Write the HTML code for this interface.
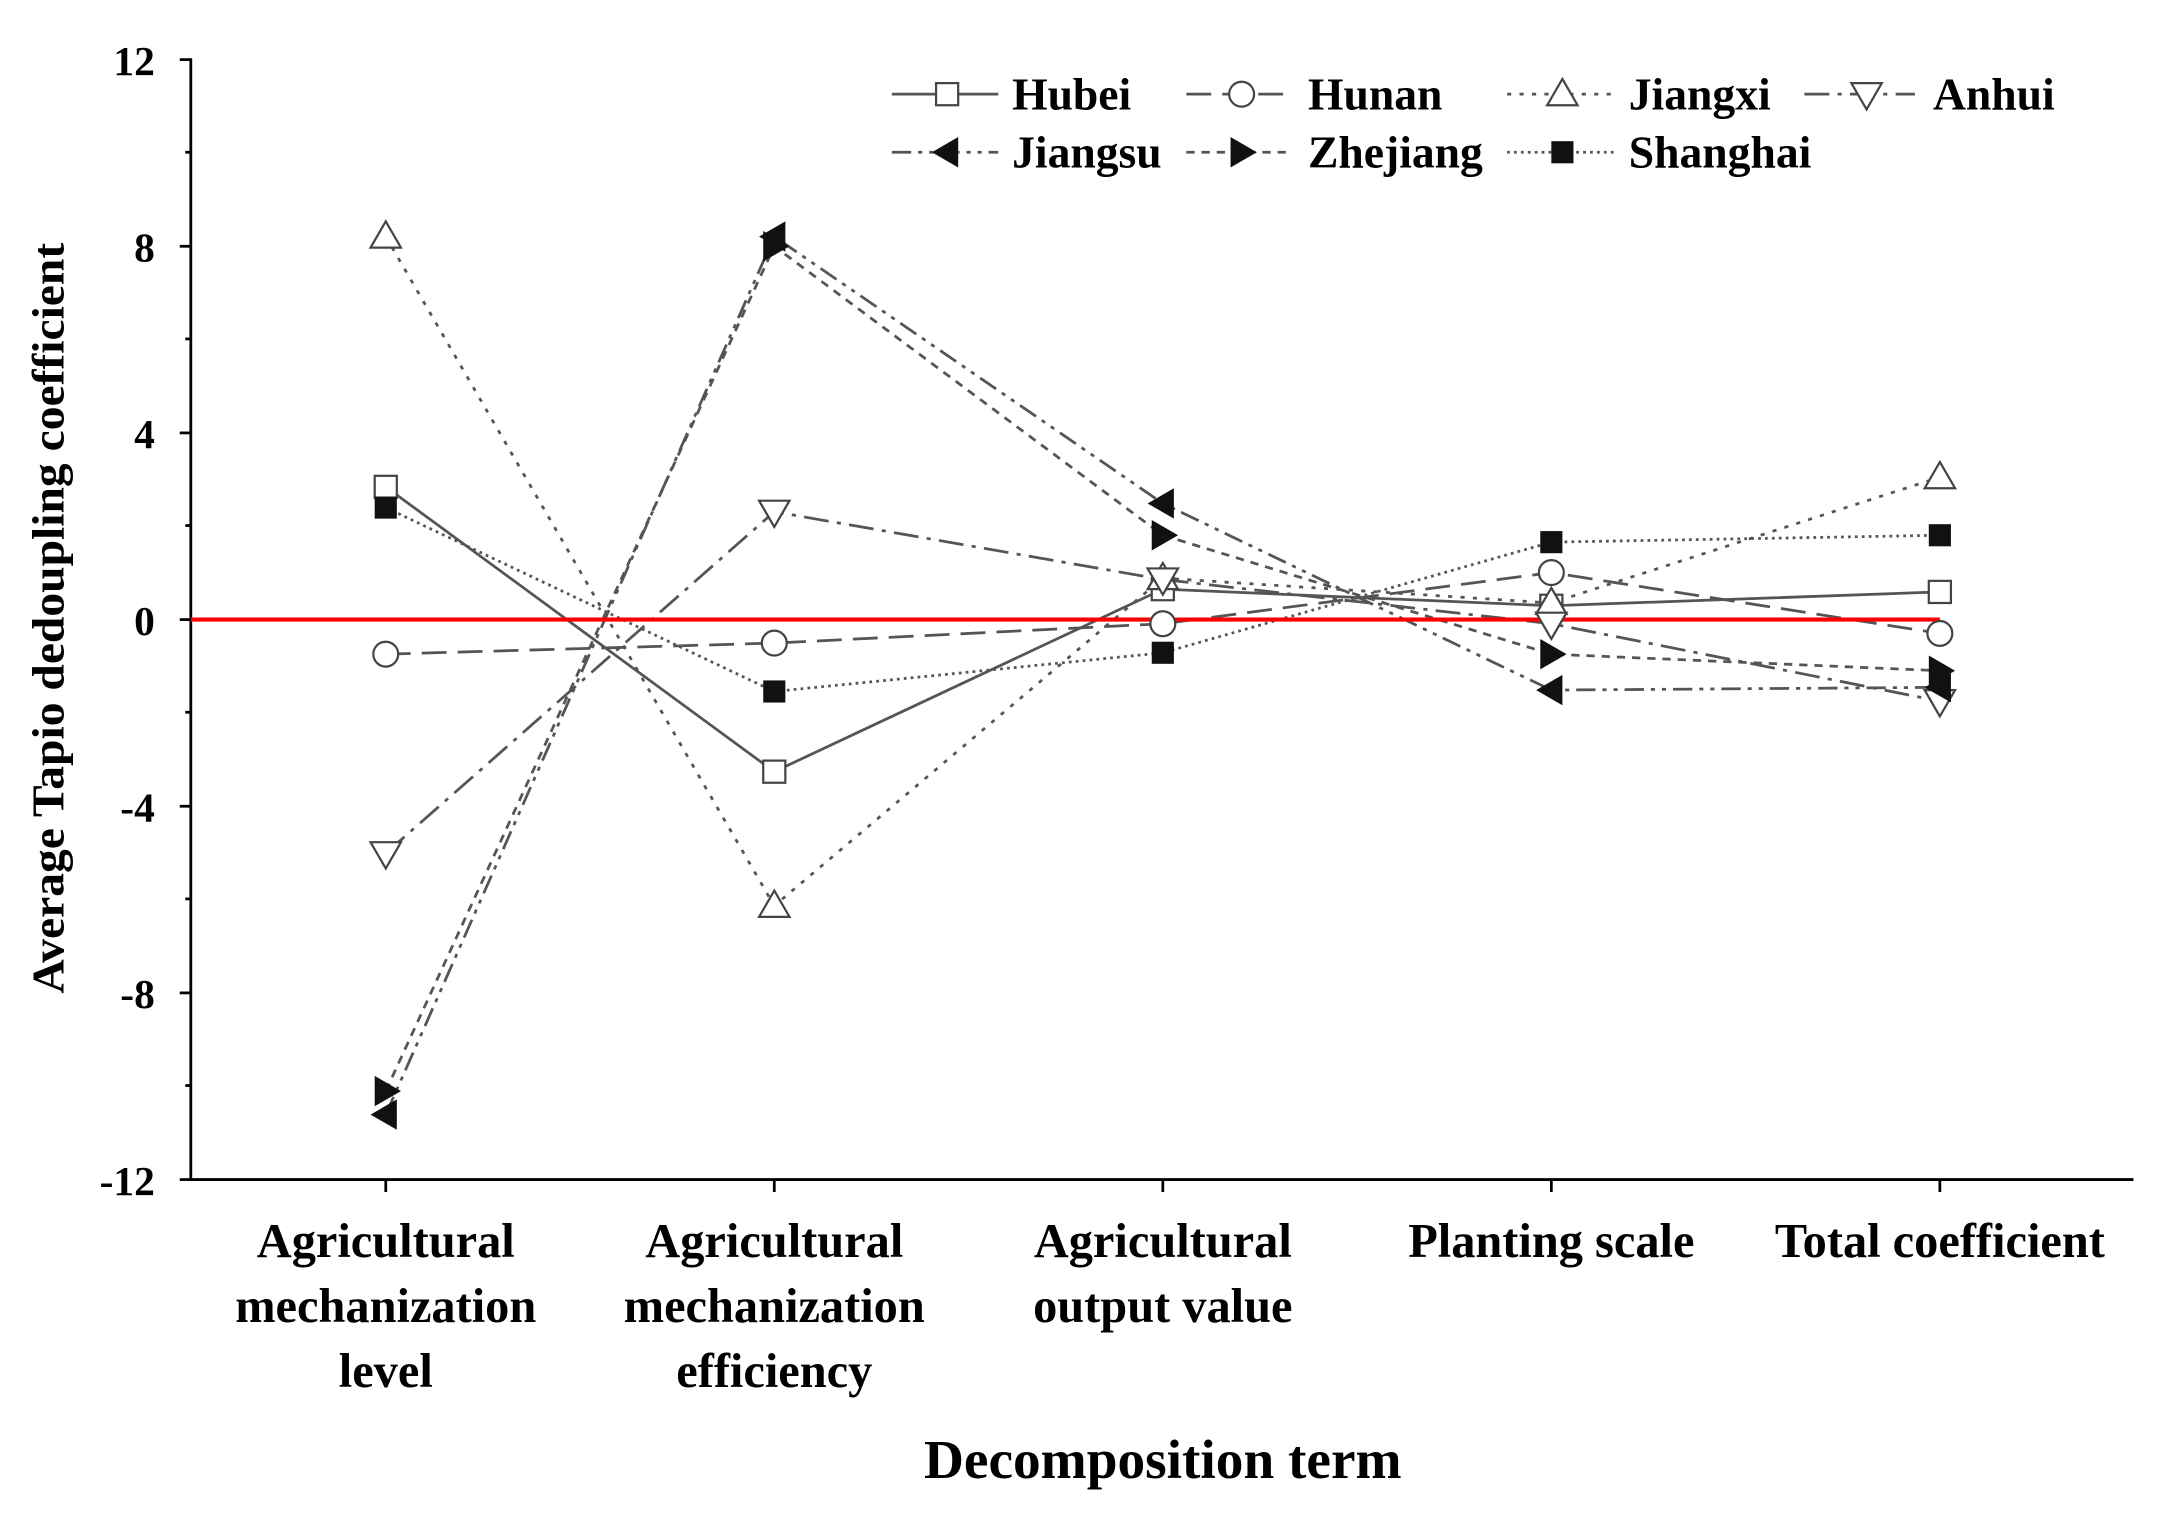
<!DOCTYPE html>
<html><head><meta charset="utf-8"><style>html,body{margin:0;padding:0;background:#fff}svg{display:block}</style></head>
<body>
<svg width="2168" height="1524" viewBox="0 0 1568 1102" xmlns="http://www.w3.org/2000/svg" font-family="Liberation Serif, serif" font-weight="bold">
<defs>
<g id="sq"><rect x="-8" y="-8" width="16" height="16" fill="#fff" stroke="#444" stroke-width="1.6"/></g>
<g id="ci"><circle r="9" fill="#fff" stroke="#444" stroke-width="1.6"/></g>
<g id="tu"><polygon points="0,-11 11,8 -11,8" fill="#fff" stroke="#444" stroke-width="1.6"/></g>
<g id="td"><polygon points="0,11 11,-8 -11,-8" fill="#fff" stroke="#444" stroke-width="1.6"/></g>
<g id="tl"><polygon points="-11,0 8,-11 8,11" fill="#111"/></g>
<g id="tr"><polygon points="11,0 -8,-11 -8,11" fill="#111"/></g>
<g id="fs"><rect x="-8" y="-8" width="16" height="16" fill="#111"/></g>
</defs>
<g stroke="#000" stroke-width="2" fill="none">
<line x1="138" y1="42" x2="138" y2="854"/>
<line x1="137" y1="853" x2="1543" y2="853"/>
<line x1="130" y1="43" x2="138" y2="43"/><line x1="130" y1="178" x2="138" y2="178"/><line x1="130" y1="313" x2="138" y2="313"/><line x1="130" y1="448" x2="138" y2="448"/><line x1="130" y1="583" x2="138" y2="583"/><line x1="130" y1="718" x2="138" y2="718"/><line x1="130" y1="853" x2="138" y2="853"/>
<line x1="134" y1="110" x2="138" y2="110"/><line x1="134" y1="245" x2="138" y2="245"/><line x1="134" y1="380" x2="138" y2="380"/><line x1="134" y1="515" x2="138" y2="515"/><line x1="134" y1="650" x2="138" y2="650"/><line x1="134" y1="785" x2="138" y2="785"/>
<line x1="279" y1="853" x2="279" y2="862"/><line x1="560" y1="853" x2="560" y2="862"/><line x1="841" y1="853" x2="841" y2="862"/><line x1="1122" y1="853" x2="1122" y2="862"/><line x1="1403" y1="853" x2="1403" y2="862"/>
</g>
<g font-size="30" text-anchor="end">
<text x="112" y="54">12</text><text x="112" y="189">8</text><text x="112" y="324">4</text><text x="112" y="459">0</text><text x="112" y="594">-4</text><text x="112" y="729">-8</text><text x="112" y="864">-12</text>
</g>
<text transform="translate(46,447) rotate(-90)" text-anchor="middle" font-size="33" textLength="543" lengthAdjust="spacingAndGlyphs">Average Tapio dedoupling coefficient</text>
<g font-size="35" text-anchor="middle">
<text x="279" y="909">Agricultural</text><text x="279" y="956">mechanization</text><text x="279" y="1003">level</text>
<text x="560" y="909">Agricultural</text><text x="560" y="956">mechanization</text><text x="560" y="1003">efficiency</text>
<text x="841" y="909">Agricultural</text><text x="841" y="956">output value</text>
<text x="1122" y="909">Planting scale</text>
<text x="1403" y="909">Total coefficient</text>
</g>
<text x="841" y="1069" text-anchor="middle" font-size="40">Decomposition term</text>
<g fill="none" stroke="#555" stroke-width="2">
<polyline points="279,352 560,558 841,426 1122,438 1403,428"/>
<polyline stroke-dasharray="18,8" points="279,473 560,465 841,451 1122,414 1403,458"/>
<polyline stroke-dasharray="3,6" points="279,171 560,655 841,418 1122,436 1403,345"/>
<polyline stroke-dasharray="18,6,3,6" points="279,617 560,370 841,419 1122,451 1403,507"/>
<polyline stroke-dasharray="14,5,3,5,3,5" points="279,806 560,171 841,364 1122,499 1403,497"/>
<polyline stroke-dasharray="6,5" points="279,789 560,178 841,387 1122,473 1403,485"/>
<polyline stroke-dasharray="2,3" points="279,367 560,500 841,472 1122,392 1403,387"/>
<line x1="138" y1="448" x2="1403" y2="448" stroke="#f00" stroke-width="3"/>
</g>
<g>
<use href="#sq" x="279" y="352"/><use href="#sq" x="560" y="558"/><use href="#sq" x="841" y="426"/><use href="#sq" x="1122" y="438"/><use href="#sq" x="1403" y="428"/>
<use href="#ci" x="279" y="473"/><use href="#ci" x="560" y="465"/><use href="#ci" x="841" y="451"/><use href="#ci" x="1122" y="414"/><use href="#ci" x="1403" y="458"/>
<use href="#tu" x="279" y="171"/><use href="#tu" x="560" y="655"/><use href="#tu" x="841" y="418"/><use href="#tu" x="1122" y="436"/><use href="#tu" x="1403" y="345"/>
<use href="#td" x="279" y="617"/><use href="#td" x="560" y="370"/><use href="#td" x="841" y="419"/><use href="#td" x="1122" y="451"/><use href="#td" x="1403" y="507"/>
<use href="#tl" x="279" y="806"/><use href="#tl" x="560" y="171"/><use href="#tl" x="841" y="364"/><use href="#tl" x="1122" y="499"/><use href="#tl" x="1403" y="497"/>
<use href="#tr" x="279" y="789"/><use href="#tr" x="560" y="178"/><use href="#tr" x="841" y="387"/><use href="#tr" x="1122" y="473"/><use href="#tr" x="1403" y="485"/>
<use href="#fs" x="279" y="367"/><use href="#fs" x="560" y="500"/><use href="#fs" x="841" y="472"/><use href="#fs" x="1122" y="392"/><use href="#fs" x="1403" y="387"/>
</g>
<g fill="none" stroke="#555" stroke-width="2">
<line x1="645" y1="68" x2="722" y2="68"/>
<line x1="858" y1="68" x2="935" y2="68" stroke-dasharray="18,8"/>
<line x1="1090" y1="68" x2="1168" y2="68" stroke-dasharray="3,6"/>
<line x1="1305" y1="68" x2="1385" y2="68" stroke-dasharray="18,6,3,6"/>
<line x1="645" y1="110" x2="722" y2="110" stroke-dasharray="14,5,3,5,3,5"/>
<line x1="858" y1="110" x2="935" y2="110" stroke-dasharray="6,5"/>
<line x1="1090" y1="110" x2="1168" y2="110" stroke-dasharray="2,3"/>
</g>
<use href="#sq" x="685" y="68"/><use href="#ci" x="898" y="68"/><use href="#tu" x="1130" y="68"/><use href="#td" x="1350" y="68"/>
<use href="#tl" x="685" y="110"/><use href="#tr" x="898" y="110"/><use href="#fs" x="1130" y="110"/>
<g font-size="33">
<text x="732" y="79">Hubei</text><text x="946" y="79">Hunan</text><text x="1178" y="79">Jiangxi</text><text x="1398" y="79">Anhui</text>
<text x="732" y="121">Jiangsu</text><text x="946" y="121">Zhejiang</text><text x="1178" y="121">Shanghai</text>
</g>
</svg>
</body></html>
